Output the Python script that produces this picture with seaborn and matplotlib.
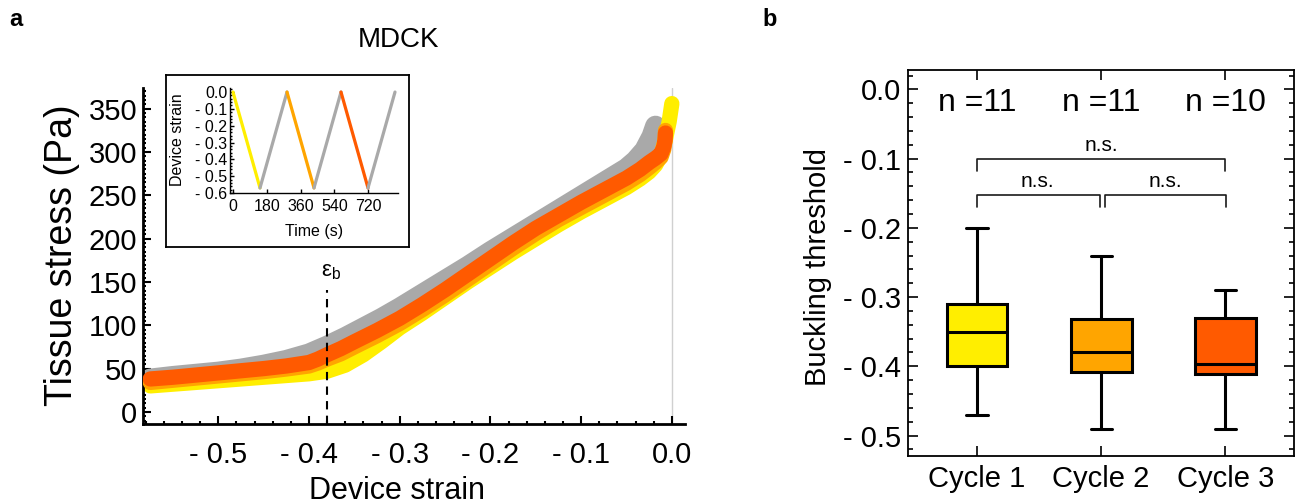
import numpy as np
import pandas as pd
import matplotlib
matplotlib.use("Agg")
import matplotlib.pyplot as plt
from matplotlib.ticker import MultipleLocator, FixedLocator, FuncFormatter
import seaborn as sns

# panel a: stress vs strain, one band per loading cycle + grey unloading
strain_c1 = [-0.575, -0.55, -0.525, -0.5, -0.475, -0.45, -0.425, -0.4, -0.38, -0.36, -0.34, -0.32, -0.3,
             -0.275, -0.25, -0.225, -0.2, -0.175, -0.15, -0.125, -0.1, -0.075, -0.05, -0.035, -0.025,
             -0.018, -0.012, -0.007, -0.003, 0.0]
stress_c1 = [30, 32, 34, 36, 38, 40, 42, 44, 47, 54, 66, 81, 97,
             114, 132, 150, 167, 184, 200, 216, 231, 245, 259, 269, 277,
             285, 296, 315, 335, 356]
strain_c23 = [-0.575, -0.55, -0.525, -0.5, -0.475, -0.45, -0.425, -0.4, -0.39, -0.38, -0.365, -0.35, -0.325,
              -0.3, -0.275, -0.25, -0.225, -0.2, -0.175, -0.15, -0.125, -0.1, -0.075, -0.05, -0.035,
              -0.025, -0.018, -0.012, -0.009, -0.0075, -0.007]
stress_c2 = [34, 36.5, 39, 41.5, 44, 46.5, 49.5, 53, 56.5, 61, 67, 75, 88,
             102, 118, 135, 153, 171, 189, 206, 222, 236, 250, 264, 274,
             282, 288, 294, 303, 313, 325]
stress_c3 = [38, 40, 42.5, 45, 47.5, 50, 53, 57, 61, 66, 73, 81, 94,
             108, 124, 141, 159, 177, 195, 212, 227, 242, 256, 270, 280,
             288, 293, 298, 306, 314, 322]
strain_unload = [-0.575, -0.55, -0.525, -0.5, -0.475, -0.45, -0.425, -0.4, -0.38, -0.36, -0.34, -0.32, -0.3,
                 -0.275, -0.25, -0.225, -0.2, -0.175, -0.15, -0.125, -0.1, -0.075, -0.05, -0.04, -0.03,
                 -0.022, -0.018]
stress_unload = [38, 41, 43.5, 46, 49.5, 54, 59.5, 67, 76, 86, 97, 108, 120,
                 136, 152, 168, 185, 201, 217, 233, 249, 265, 281, 290, 302,
                 318, 330]
eps_b = -0.38

# inset: device strain protocol
inset_time = [0, 144, 288, 432, 576, 720, 864]
inset_strain = [0.0, -0.57, 0.0, -0.57, 0.0, -0.57, 0.0]

# panel b: buckling threshold per cycle
cycles = ["Cycle 1", "Cycle 2", "Cycle 3"]
thr_c1 = [-0.47, -0.43, -0.41, -0.39, -0.37, -0.35, -0.33, -0.32, -0.30, -0.26, -0.20]
thr_c2 = [-0.49, -0.44, -0.42, -0.396, -0.39, -0.38, -0.36, -0.34, -0.324, -0.29, -0.24]
thr_c3 = [-0.49, -0.45, -0.415, -0.399, -0.398, -0.394, -0.342, -0.326, -0.31, -0.29]
n_labels = ["n =11", "n =11", "n =10"]

YEL, ORA, RED, GRY = "#FFEE00", "#FFA500", "#FF5A00", "#A9A9A9"
cycle_colors = [YEL, ORA, RED]
inset_colors = [YEL, GRY, ORA, GRY, RED, GRY]

sns.set_style("ticks")
plt.rcParams["font.family"] = ["Liberation Sans", "DejaVu Sans"]
plt.rcParams["mathtext.fontset"] = "custom"
plt.rcParams["mathtext.rm"] = "Liberation Sans"
for k in ["text.color", "axes.labelcolor", "xtick.color", "ytick.color", "axes.edgecolor"]:
    plt.rcParams[k] = "black"

W, H = 1301, 504
fig = plt.figure(figsize=(W / 100, H / 100), dpi=100)


def minus_fmt(v, pos):
    if abs(v) < 1e-9:
        return "0.0"
    return ("- %.1f" % abs(v)) if v < 0 else "%.1f" % v


# ---------------- panel a ----------------
axa = fig.add_axes([143 / W, 1 - 424 / H, 542 / W, 336 / H])
axa.axvline(0, color="#d0d0d0", lw=1, zorder=0)
sns.lineplot(x=strain_unload, y=stress_unload, color=GRY, lw=15, sort=False,
             estimator=None, solid_capstyle="round", solid_joinstyle="round", ax=axa, zorder=1)
for ys, xs, c, z in [(stress_c1, strain_c1, YEL, 2), (stress_c2, strain_c23, ORA, 3),
                     (stress_c3, strain_c23, RED, 4)]:
    sns.lineplot(x=xs, y=ys, color=c, lw=11, sort=False, estimator=None,
                 solid_capstyle="round", solid_joinstyle="round", ax=axa, zorder=z)
axa.plot([eps_b, eps_b], [-14, 141], color="black", lw=1.5, ls=(0, (4, 3)), zorder=6)
axa.text(eps_b + 0.004, 150, "ε$_\\mathregular{b}$", fontsize=16, ha="center", va="bottom")

axa.set_xlim(-0.583, 0.0145)
axa.set_ylim(-14, 374)
axa.xaxis.set_major_locator(MultipleLocator(0.1))
axa.xaxis.set_minor_locator(MultipleLocator(0.02))
axa.yaxis.set_major_locator(MultipleLocator(50))
axa.yaxis.set_minor_locator(MultipleLocator(5))
axa.xaxis.set_major_formatter(FuncFormatter(minus_fmt))
axa.tick_params(direction="in", which="major", length=6, width=1.5, labelsize=21)
axa.tick_params(direction="in", which="minor", length=2.5, width=1.5)
axa.tick_params(axis="x", pad=12)
axa.tick_params(axis="y", pad=4)
for s in ["top", "right"]:
    axa.spines[s].set_visible(False)
for s in ["left", "bottom"]:
    axa.spines[s].set_linewidth(2)
axa.set_xlabel("")
axa.set_ylabel("")
fig.text(62 / W, 1 - 255 / H, "Tissue stress (Pa)", rotation=90, ha="center", va="center", fontsize=27)
fig.text(397 / W, 1 - 499 / H, "Device strain", ha="center", va="baseline", fontsize=22)
fig.text(398 / W, 1 - 40 / H, "MDCK", ha="center", va="center", fontsize=20)

# inset
frame = fig.add_axes([166 / W, 1 - 247 / H, 243 / W, 172 / H], zorder=5)
frame.set_xticks([])
frame.set_yticks([])
for s in frame.spines.values():
    s.set_linewidth(1.3)
ins = fig.add_axes([230 / W, 1 - 193 / H, 168 / W, 105 / H], zorder=6)
ins.patch.set_alpha(0)
for i, c in enumerate(inset_colors):
    sns.lineplot(x=inset_time[i:i + 2], y=inset_strain[i:i + 2], color=c, lw=2.3,
                 sort=False, estimator=None, solid_capstyle="round", ax=ins)
ins.set_xlim(-16, 880)
ins.set_ylim(-0.6, 0.024)
ins.xaxis.set_major_locator(FixedLocator([0, 180, 360, 540, 720]))
ins.yaxis.set_major_locator(MultipleLocator(0.1))
ins.yaxis.set_minor_locator(MultipleLocator(0.02))
ins.yaxis.set_major_formatter(FuncFormatter(minus_fmt))
ins.tick_params(direction="in", which="major", length=3, width=1, labelsize=11.5, pad=2)
ins.tick_params(direction="in", which="minor", length=1.5, width=1)
ins.tick_params(axis="x", pad=4)
for s in ["top", "right"]:
    ins.spines[s].set_visible(False)
for s in ["left", "bottom"]:
    ins.spines[s].set_linewidth(1)
ins.set_xlabel("")
ins.set_ylabel("")
ins.text(178 / W, 1 - 140 / H, "Device strain", rotation=90, ha="center", va="center",
         fontsize=11.5, transform=fig.transFigure)
ins.text(314 / W, 1 - 232 / H, "Time (s)", ha="center", va="center", fontsize=11.5,
         transform=fig.transFigure)

# ---------------- panel b ----------------
df_b = pd.DataFrame({
    "cycle": ["Cycle 1"] * len(thr_c1) + ["Cycle 2"] * len(thr_c2) + ["Cycle 3"] * len(thr_c3),
    "threshold": thr_c1 + thr_c2 + thr_c3,
})
axb = fig.add_axes([908 / W, 1 - 455.6 / H, 385.5 / W, 385.6 / H])
sns.boxplot(data=df_b, x="cycle", y="threshold", hue="cycle", order=cycles,
            hue_order=cycles, palette=cycle_colors, width=0.49, whis=(0, 100),
            saturation=1, linewidth=2.2, linecolor="black", fliersize=0,
            capwidths=0.17, legend=False, ax=axb)
axb.set_xlim(-0.556, 2.55)
axb.set_ylim(-0.529, 0.028)
axb.yaxis.set_major_locator(MultipleLocator(0.1))
axb.yaxis.set_minor_locator(MultipleLocator(0.02))
axb.yaxis.set_major_formatter(FuncFormatter(minus_fmt))
axb.tick_params(direction="in", which="major", length=7, width=1.2, labelsize=21,
                top=True, right=True)
axb.tick_params(direction="in", which="minor", length=3.5, width=1.2, right=True)
axb.tick_params(axis="x", pad=7)
axb.tick_params(axis="y", pad=5)
for s in axb.spines.values():
    s.set_linewidth(1.3)
axb.set_xlabel("")
axb.set_ylabel("")
fig.text(818 / W, 1 - 267 / H, "Buckling threshold", rotation=90, ha="center", va="center", fontsize=21)

for i, lab in enumerate(n_labels):
    axb.text(i, -0.02, lab, ha="center", va="center", fontsize=23)

bk = dict(color="#1a1a1a", lw=1.2)
axb.plot([0, 0, 2, 2], [-0.118, -0.100, -0.100, -0.118], **bk)
axb.plot([0, 0, 0.988, 0.988], [-0.170, -0.153, -0.153, -0.170], **bk)
axb.plot([1.032, 1.032, 2.008, 2.008], [-0.170, -0.153, -0.153, -0.170], **bk)
axb.text(1, -0.081, "n.s.", ha="center", va="center", fontsize=15)
axb.text(0.49, -0.133, "n.s.", ha="center", va="center", fontsize=15)
axb.text(1.516, -0.133, "n.s.", ha="center", va="center", fontsize=15)

fig.text(16 / W, 1 - 19 / H, "a", ha="center", va="center", fontsize=17, fontweight="bold")
fig.text(770 / W, 1 - 19 / H, "b", ha="center", va="center", fontsize=17, fontweight="bold")

fig.savefig("out.png", dpi=100)
